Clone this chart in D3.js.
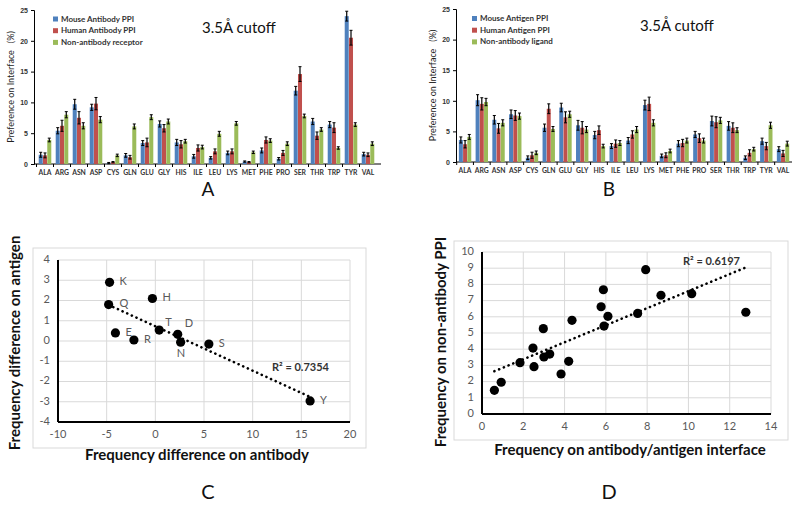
<!DOCTYPE html>
<html><head><meta charset="utf-8">
<script src="https://cdn.jsdelivr.net/npm/d3@7"></script>
<style>body{margin:0;background:#fff}svg{display:block;font-family:Lato,"Open Sans",sans-serif}</style>
</head><body><svg id="c" width="800" height="509"></svg>
<script>
// ---------- DATA ----------
const categories = ["ALA","ARG","ASN","ASP","CYS","GLN","GLU","GLY","HIS","ILE","LEU","LYS","MET","PHE","PRO","SER","THR","TRP","TYR","VAL"];
const barTicks = [0,5,10,15,20,25];
// Panel A
const seriesA = ["Mouse Antibody PPI","Human Antibody PPI","Non-antibody receptor"];
const mouseAbPPI    = [1.5,5.4,9.7,9.2,0.15,1.4,3.4,6.5,3.5,1.25,1.0,1.8,0.4,2.2,0.85,11.9,6.9,6.4,24.0,1.6];
const humanAbPPI    = [1.4,6.2,7.5,9.8,0.3,1.1,3.5,5.8,3.2,2.6,2.05,2.05,0.3,3.9,1.8,14.6,4.6,5.9,20.5,1.5];
const nonAbReceptor = [3.9,8.0,6.2,7.2,1.4,6.1,7.6,6.9,3.7,2.75,4.9,6.6,1.9,3.8,3.3,7.8,5.6,2.6,6.4,3.3];
const mouseAbErr    = [0.4,0.5,0.8,0.5,0.1,0.3,0.4,0.5,0.5,0.3,0.2,0.3,0.1,0.4,0.2,0.7,0.5,0.5,0.8,0.3];
const humanAbErr    = [0.4,0.9,1.0,1.0,0.1,0.3,0.7,0.6,0.6,0.5,0.4,0.4,0.1,0.5,0.4,1.2,0.6,0.8,1.2,0.3];
const nonAbRecErr   = [0.3,0.5,0.5,0.5,0.2,0.4,0.4,0.4,0.3,0.3,0.4,0.3,0.2,0.3,0.3,0.3,0.3,0.2,0.3,0.3];
// Panel B
const seriesB = ["Mouse Antigen PPI","Human Antigen PPI","Non-antibody ligand"];
const mouseAgPPI    = [3.6,10.1,6.9,7.8,0.7,5.6,8.9,6.0,4.4,2.6,3.5,9.3,1.0,3.0,4.5,6.7,5.9,0.7,3.4,2.1];
const humanAgPPI    = [2.9,9.5,5.5,7.6,1.1,8.7,7.3,5.6,5.2,3.0,4.5,9.5,1.1,3.1,3.9,6.5,5.6,1.5,2.6,1.4];
const nonAbLigand   = [4.1,9.8,6.4,7.5,1.5,5.4,7.8,5.3,2.6,3.1,5.3,6.4,1.8,3.5,3.5,6.8,5.2,2.1,6.0,3.0];
const mouseAgErr    = [0.5,0.9,0.7,0.7,0.3,0.6,0.7,0.8,0.6,0.4,0.5,0.8,0.3,0.5,0.5,0.8,0.7,0.3,0.5,0.4];
const humanAgErr    = [0.6,1.0,0.8,0.8,0.5,0.8,0.9,1.0,0.7,0.6,0.6,1.1,0.4,0.6,0.7,0.9,0.8,0.5,0.6,0.5];
const nonAbLigErr   = [0.4,0.6,0.5,0.5,0.3,0.4,0.5,0.5,0.3,0.4,0.5,0.5,0.3,0.4,0.4,0.5,0.4,0.3,0.5,0.4];
// Panel C
const residueC  = ["K","Q","H","E","R","T","D","N","S","Y"];
const abDiffC   = [-4.7,-4.8,-0.3,-4.1,-2.2,0.4,2.3,2.6,5.5,15.9];
const agDiffC   = [2.9,1.8,2.1,0.4,0.05,0.54,0.33,-0.06,-0.15,-2.96];
const xTicksC = [-10,-5,0,5,10,15,20];
const yTicksC = [-4,-3,-2,-1,0,1,2,3,4];
const r2C = "R² = 0.7354";
// Panel D
const abAgFreqD = [0.6,0.93,1.84,2.47,2.52,2.97,3.0,3.28,3.83,4.2,4.36,5.77,5.88,6.1,5.91,7.54,7.93,8.67,10.16,12.78];
const nonAbFreqD= [1.46,1.96,3.17,4.07,2.92,5.27,3.52,3.70,2.47,3.25,5.78,6.62,7.67,6.03,5.43,6.21,8.91,7.33,7.43,6.28];
const xTicksD = [0,2,4,6,8,10,12,14];
const yTicksD = [0,1,2,3,4,5,6,7,8,9,10];
const r2D = "R² = 0.6197";

// ---------- DRAW ----------
const svg = d3.select("#c");
const colors = ["#4F81BD","#C0504D","#9BBB59"];

function barPanel(o){
  const g = svg.append("g");
  const x0 = d3.scaleBand().domain(categories).range([o.x0,o.x1]).paddingInner(0.26).paddingOuter(0.13);
  const x1 = d3.scaleBand().domain([0,1,2]).range([0,x0.bandwidth()]).paddingInner(0.06);
  const y = d3.scaleLinear().domain([0,25]).range([o.yb,o.yt]);
  const ya = g.append("g").attr("transform",`translate(${o.ax},0)`).call(d3.axisLeft(y).tickValues(barTicks).tickSize(3));
  ya.select(".domain").attr("stroke","#000");
  ya.selectAll("text").attr("font-size",7).attr("font-weight","bold").attr("fill","#333");
  g.append("line").attr("x1",o.ax).attr("x2",o.xe).attr("y1",o.yb).attr("y2",o.yb).attr("stroke","#000");
  const step = x0.step();
  categories.forEach((c,i)=>{
    const xb = x0(c) - step*0.13;
    g.append("line").attr("x1",xb).attr("x2",xb).attr("y1",o.yb).attr("y2",o.yb+3).attr("stroke","#000");
  });
  g.selectAll(".cl").data(categories).join("text")
    .attr("x",d=>x0(d)+x0.bandwidth()/2).attr("y",o.yb+11).attr("text-anchor","middle")
    .attr("font-size",6.8).attr("font-weight","bold").attr("fill","#333").text(d=>d);
  o.vals.forEach((vals,s)=>{
    g.selectAll(null).data(vals).join("rect")
      .attr("x",(d,i)=>x0(categories[i])+x1(s)).attr("width",x1.bandwidth())
      .attr("y",d=>y(d)).attr("height",d=>y(0)-y(d)).attr("fill",colors[s]);
    const cx = i=>x0(categories[i])+x1(s)+x1.bandwidth()/2;
    vals.forEach((d,i)=>{
      const e = o.errs[s][i];
      const lo = Math.max(0,d-e), hi = d+e;
      g.append("line").attr("x1",cx(i)).attr("x2",cx(i)).attr("y1",y(lo)).attr("y2",y(hi)).attr("stroke","#000").attr("stroke-width",1.2);
      g.append("line").attr("x1",cx(i)-1.5).attr("x2",cx(i)+1.5).attr("y1",y(hi)).attr("y2",y(hi)).attr("stroke","#000").attr("stroke-width",1);
      g.append("line").attr("x1",cx(i)-1.5).attr("x2",cx(i)+1.5).attr("y1",y(lo)).attr("y2",y(lo)).attr("stroke","#000").attr("stroke-width",1);
    });
  });
  o.names.forEach((n,s)=>{
    g.append("rect").attr("x",o.lx).attr("y",o.ly+s*11.7-3).attr("width",5).attr("height",5).attr("fill",colors[s]);
    g.append("text").attr("x",o.lx+8).attr("y",o.ly+s*11.7).attr("dominant-baseline","middle")
      .attr("font-size",8).attr("font-weight","bold").attr("fill","#333").text(n);
  });
  g.append("text").attr("transform",`translate(${o.tx},${(o.yt+o.yb)/2}) rotate(-90)`).attr("text-anchor","middle")
    .attr("dominant-baseline","middle").attr("font-size",9).attr("fill","#222").attr("xml:space","preserve")
    .text("Preference on Interface   (%)");
  g.append("text").attr("x",o.cx).attr("y",o.cy).attr("font-size",15).attr("fill","#111").attr("dominant-baseline","middle").text("3.5Å cutoff");
  g.append("text").attr("x",o.letX).attr("y",196).attr("text-anchor","middle")
    .attr("font-size",19).attr("fill","#111").text(o.letter);
}

barPanel({x0:36.5,x1:376.5,ax:34,xe:381,yb:164,yt:10,vals:[mouseAbPPI,humanAbPPI,nonAbReceptor],
  errs:[mouseAbErr,humanAbErr,nonAbRecErr],names:seriesA,lx:53,ly:19.5,tx:12,cx:202,cy:29,letX:208,letter:"A"});
barPanel({x0:456.7,x1:791.4,ax:456,xe:792,yb:162,yt:9,vals:[mouseAgPPI,humanAgPPI,nonAbLigand],
  errs:[mouseAgErr,humanAgErr,nonAbLigErr],names:seriesB,lx:472,ly:19,tx:434,cx:640,cy:27,letX:609,letter:"B"});

function regression(xs,ys){
  const mx=d3.mean(xs), my=d3.mean(ys);
  let sxy=0,sxx=0; xs.forEach((x,i)=>{sxy+=(x-mx)*(ys[i]-my); sxx+=(x-mx)*(x-mx);});
  const b=sxy/sxx; return {b, a:my-b*mx};
}

function scatterPanel(o){
  const g = svg.append("g");
  g.append("rect").attr("x",o.fx).attr("y",o.fy).attr("width",o.fw).attr("height",o.fh).attr("fill","none").attr("stroke","#d9d9d9");
  const x = d3.scaleLinear().domain(o.xd).range(o.xr);
  const y = d3.scaleLinear().domain(o.yd).range(o.yr);
  g.selectAll(".gx").data(o.xt).join("line").attr("x1",d=>x(d)).attr("x2",d=>x(d)).attr("y1",o.yr[0]).attr("y2",o.yr[1]).attr("stroke","#d9d9d9");
  g.selectAll(".gy").data(o.yt).join("line").attr("y1",d=>y(d)).attr("y2",d=>y(d)).attr("x1",o.xr[0]).attr("x2",o.xr[1]).attr("stroke","#d9d9d9");
  g.append("line").attr("x1",o.xr[0]).attr("x2",o.xr[0]).attr("y1",o.yr[0]).attr("y2",o.yr[1]).attr("stroke","#000").attr("stroke-width",2);
  g.append("line").attr("x1",o.xr[0]).attr("x2",o.xr[1]).attr("y1",o.yr[0]).attr("y2",o.yr[0]).attr("stroke","#000").attr("stroke-width",2);
  g.selectAll(".tx").data(o.xt).join("text").attr("x",d=>x(d)).attr("y",o.yr[0]+16).attr("text-anchor","middle")
    .attr("font-size",11).attr("fill","#595959").text(d=>d);
  g.selectAll(".ty").data(o.yt).join("text").attr("x",o.xr[0]-8).attr("y",d=>y(d)).attr("text-anchor","end")
    .attr("dominant-baseline","middle").attr("font-size",11).attr("fill","#595959").text(d=>d);
  const r = regression(o.xs,o.ys);
  const xa = d3.min(o.xs), xb = d3.max(o.xs);
  g.append("line").attr("x1",x(xa)).attr("y1",y(r.a+r.b*xa)).attr("x2",x(xb)).attr("y2",y(r.a+r.b*xb))
    .attr("stroke","#000").attr("stroke-width",2.6).attr("stroke-dasharray","0.1,5").attr("stroke-linecap","round");
  g.selectAll(".pt").data(o.xs).join("circle").attr("cx",d=>x(d)).attr("cy",(d,i)=>y(o.ys[i])).attr("r",4.6).attr("fill","#000");
  if(o.labels){
    o.labels.forEach((l,i)=>{
      const off = o.offs[l];
      g.append("text").attr("x",x(o.xs[i])+off[0]).attr("y",y(o.ys[i])+off[1]).attr("dominant-baseline","middle")
        .attr("font-size",11).attr("fill","#595959").text(l);
    });
  }
  g.append("text").attr("x",o.r2x).attr("y",o.r2y).attr("dominant-baseline","middle").attr("font-size",11)
    .attr("font-weight","bold").attr("fill","#333").text(o.r2);
  g.append("text").attr("transform",`translate(${o.ylx},${o.yly}) rotate(-90)`).attr("text-anchor","middle")
    .attr("dominant-baseline","middle").attr("font-size",15).attr("font-weight","bold").attr("fill","#111").text(o.ytitle);
  g.append("text").attr("x",o.xlx).attr("y",o.xly).attr("text-anchor","middle").attr("dominant-baseline","middle")
    .attr("font-size",15).attr("font-weight","bold").attr("fill","#111").text(o.xtitle);
  g.append("text").attr("x",o.letX).attr("y",494).attr("text-anchor","middle").attr("dominant-baseline","middle")
    .attr("font-size",20).attr("fill","#111").text(o.letter);
}

scatterPanel({fx:33,fy:248,fw:333,fh:200,xd:[-10,20],xr:[58,350],yd:[-4,4],yr:[422,260],xt:xTicksC,yt:yTicksC,
  xs:abDiffC,ys:agDiffC,labels:residueC,
  offs:{K:[10,0],Q:[11,0],H:[10,0],E:[10,0],R:[10,0],T:[6,-7],D:[7,-10],N:[-4,12],S:[10,0],Y:[10,0]},
  r2:r2C,r2x:272,r2y:368,ylx:16,yly:343,ytitle:"Frequency difference on antigen",xlx:197,xly:456,
  xtitle:"Frequency difference on antibody",letX:208,letter:"C"});
scatterPanel({fx:454,fy:241,fw:334,fh:199,xd:[0,14],xr:[482,771],yd:[0,10],yr:[414,252],xt:xTicksD,yt:yTicksD,
  xs:abAgFreqD,ys:nonAbFreqD,labels:null,
  r2:r2D,r2x:683,r2y:262,ylx:442,yly:342,ytitle:"Frequency on non-antibody PPI",xlx:630,xly:451,
  xtitle:"Frequency on antibody/antigen interface",letX:609,letter:"D"});
</script></body></html>
